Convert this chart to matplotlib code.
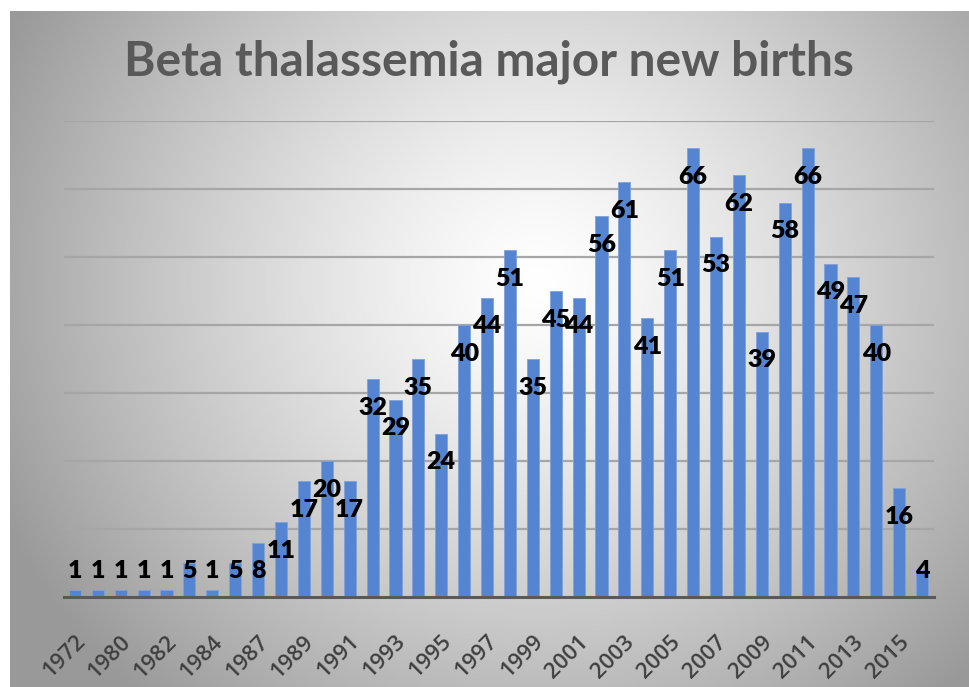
import numpy as np
import matplotlib
matplotlib.use("Agg")
import matplotlib.pyplot as plt
from matplotlib.transforms import ScaledTranslation

# ---- data ----
years = ["1972", "1976", "1980", "1981", "1982", "1983", "1984", "1985",
         "1987", "1988", "1989", "1990", "1991", "1992", "1993", "1994",
         "1995", "1996", "1997", "1998", "1999", "2000", "2001", "2002",
         "2003", "2004", "2005", "2006", "2007", "2008", "2009", "2010",
         "2011", "2012", "2013", "2014", "2015", "2016"]
births = [1, 1, 1, 1, 1, 5, 1, 5, 8, 11, 17, 20, 17, 32, 29, 35, 24, 40,
          44, 51, 35, 45, 44, 56, 61, 41, 51, 66, 53, 62, 39, 58, 66, 49,
          47, 40, 16, 4]
title = "Beta thalassemia major new births"

W, H = 969, 687
fig = plt.figure(figsize=(W / 100, H / 100), dpi=100)
fig.patch.set_facecolor("white")

# background gradient panel
bg = fig.add_axes([10 / W, 0, 1 - 10 / W, 1 - 11 / H])
bg.set_axis_off()
ny, nx = 300, 420
yy, xx = np.mgrid[0:ny, 0:nx]
cx, cy = 0.55 * nx, 0.40 * ny
r = np.sqrt(((xx - cx) / nx) ** 2 + ((yy - cy) / ny * 0.75) ** 2)
val = 1.0 - 0.40 * np.clip(r / 0.62, 0, 1) ** 1.3
img = np.dstack([val, val, val])
bg.imshow(img, aspect="auto", extent=[0, 1, 0, 1], origin="upper")
bg.set_xlim(0, 1); bg.set_ylim(0, 1)

# main axes
left, right = 63.5, 933.5
bottom, top = 597, 121
ax = fig.add_axes([left / W, (H - bottom) / H, (right - left) / W, (bottom - top) / H])
ax.patch.set_alpha(0)
x = np.arange(len(years))
ax.bar(x, births, width=0.53, color="#5585D0", edgecolor="#7FA2DC", linewidth=0.6, zorder=3)
ax.set_xlim(-0.5, len(years) - 0.5)
ax.set_ylim(0, 70)
ax.set_yticks(np.arange(10, 71, 10))
ax.yaxis.grid(True, color="#A6A6A6", linewidth=1.6, zorder=1)
ax.tick_params(axis="y", left=False, labelleft=False)
for s in ["left", "right", "top"]:
    ax.spines[s].set_visible(False)
ax.spines["bottom"].set_color("#595959")
ax.spines["bottom"].set_linewidth(2.2)
ax.spines["bottom"].set_zorder(4)

ax.tick_params(axis="x", length=0, pad=30, labelsize=17, labelcolor="#3F3F3F")
ax.set_xticks(x[::2], labels=years[::2])
off = ScaledTranslation(7 / 100, 0, fig.dpi_scale_trans)
for lab in ax.get_xticklabels():
    lab.set_rotation(45)
    lab.set_ha("right")
    lab.set_va("center")
    lab.set_rotation_mode("anchor")
    lab.set_fontfamily("Open Sans")
    lab.set_fontweight(600)
    lab.set_fontsize(16)
    lab.set_transform(lab.get_transform() + off)

for xi, v in zip(x, births):
    ax.text(xi, max(v - 4.2, 3.8), str(v), ha="center", va="center",
            fontsize=18, fontweight="heavy", color="black", fontfamily="Lato",
            zorder=5)

fig.text(0.505, 1 - 62 / H, title, ha="center", va="center", fontsize=34.5,
         fontweight="bold", color="#595959", fontfamily="Lato")

fig.savefig("out.png", dpi=100)
